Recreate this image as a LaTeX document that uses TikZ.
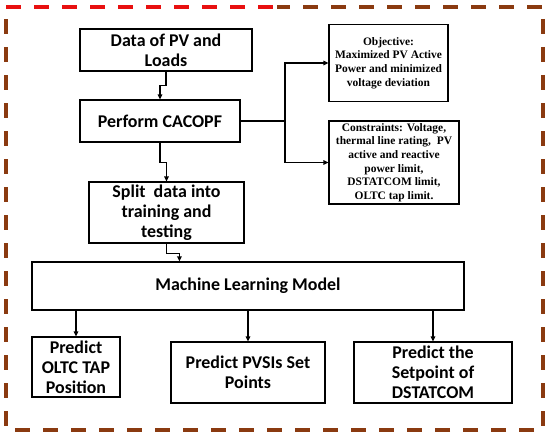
\documentclass[tikz,border=0pt]{standalone}
\usepackage{fontspec}
\setmainfont{Carlito}
\newfontfamily\tnr{Liberation Serif}
\usetikzlibrary{arrows.meta,calc}
\definecolor{bord}{HTML}{8A3A10}
\definecolor{bordred}{HTML}{E81010}
\begin{document}
\begin{tikzpicture}[x=1bp,y=-1bp,
  mainbox/.style={draw, line width=1.2bp, inner sep=0pt, align=center,
    font=\fontsize{18}{20}\selectfont\bfseries},
  smallbox/.style={draw, line width=1.2bp, inner sep=0pt, align=center,
    font=\tnr\fontsize{11.5}{13.7}\selectfont\bfseries},
  arr/.style={line width=1.6bp, -{Triangle[length=5bp,width=4.5bp]}},
  border/.style={line width=3.5bp, dash pattern=on 15bp off 13bp}]
\useasboundingbox (0,0) rectangle (550,436);
% dashed frame
\draw[border, bordred] (6,7) -- (277,7);
\draw[border, bord, dash phase=2bp] (277,7) -- (543,7) -- (543,430) -- (6,430) -- (6,7);
% nodes
\node[mainbox, minimum width=172bp, minimum height=42bp] (data) at (166,50) {Data of PV and\\Loads};
\node[mainbox, minimum width=160bp, minimum height=42bp] (cacopf) at (160,121) {Perform CACOPF};
\node[mainbox, minimum width=155bp, minimum height=61bp] (split) at (166.5,212.5) {Split\ \ data into\\training and\\testing};
\node[mainbox, minimum width=432bp, minimum height=48bp] (ml) at (248,286) {Machine Learning Model};
\node[mainbox, minimum width=88bp, minimum height=60bp] (oltc) at (76,367) {Predict\\OLTC TAP\\Position};
\node[mainbox, minimum width=154bp, minimum height=61bp] (pvsi) at (248,372.5) {Predict PVSIs Set\\Points};
\node[mainbox, minimum width=158bp, minimum height=61bp] (dstat) at (433,372.5) {Predict the\\Setpoint of\\DSTATCOM};
\node[smallbox, minimum width=119bp, minimum height=77bp] (obj) at (388.5,63) {Objective:\\Maximized PV Active\\Power and minimized\\voltage deviation};
\node[smallbox, minimum width=130bp, minimum height=83bp] (cons) at (394,162.5) {Constraints: Voltage,\\thermal line rating,\ \ PV\\active and reactive\\power limit,\\DSTATCOM limit,\\OLTC tap limit.};
% connectors
\draw[arr] (data.south) -- ++(0,14) -| (cacopf.north);
\draw[arr] (cacopf.south) -- ++(0,20) -| (split.north);
\coordinate (mlin) at ($(ml.north west)+(148,0)$);
\draw[arr] (split.south) -- ++(0,10) -| (mlin);
\draw[arr] (oltc.north |- ml.south) -- (oltc.north);
\draw[arr] (pvsi.north |- ml.south) -- (pvsi.north);
\draw[arr] (dstat.north |- ml.south) -- (dstat.north);
\draw[line width=2.2bp] (cacopf.east) -- (285,121) coordinate (br);
\draw[arr] (br) |- (obj.west);
\draw[arr] (br) |- (cons.west);
\end{tikzpicture}
\end{document}
